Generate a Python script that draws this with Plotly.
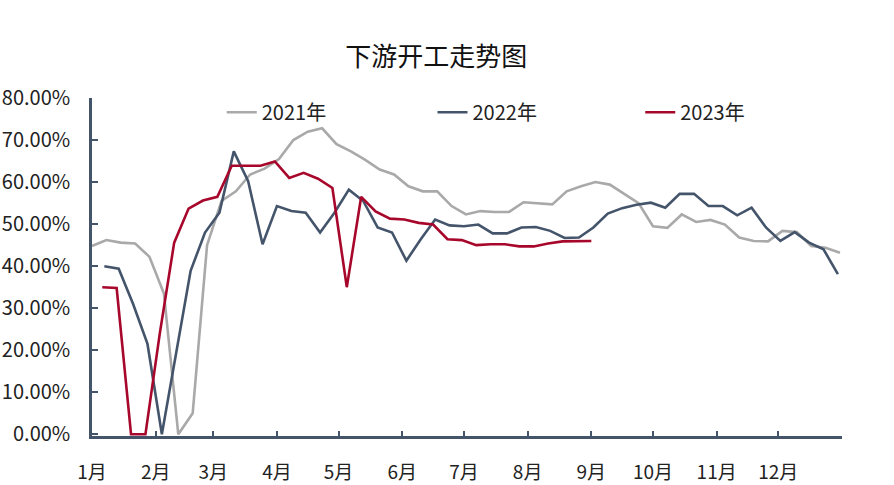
import pandas as pd
import plotly.graph_objects as go

# ---------------- data ----------------
month_labels = ["1月", "2月", "3月", "4月", "5月", "6月", "7月", "8月", "9月", "10月", "11月", "12月"]

series_names = ["2021年", "2022年", "2023年"]
series_start = ["2021-01-01", "2022-01-07", "2023-01-06"]   # weekly observations (Fridays)

v2021 = [44.8, 46.2, 45.6, 45.4, 42.2, 33.5, 0.0, 5.0, 45.0, 55.5,
         57.8, 61.8, 63.2, 65.5, 70.0, 72.0, 72.8, 69.0, 67.3, 65.3,
         63.0, 61.8, 59.0, 57.8, 57.8, 54.3, 52.3, 53.1, 52.9, 52.9,
         55.2, 55.0, 54.7, 57.8, 59.0, 60.0, 59.4, 57.2, 55.0, 49.5,
         49.1, 52.3, 50.5, 51.0, 49.9, 46.8, 46.0, 45.9, 48.4, 48.1,
         44.8, 44.4, 43.2]

v2022 = [40.0, 39.4, 31.0, 21.5, 0.0, 19.5, 38.9, 48.0, 52.7, 67.3,
         60.2, 45.2, 54.3, 53.1, 52.7, 48.0, 52.7, 58.2, 55.5, 49.2,
         48.0, 41.3, 46.4, 51.1, 49.7, 49.5, 49.9, 47.8, 47.8, 49.2,
         49.3, 48.4, 46.7, 46.8, 49.2, 52.5, 53.8, 54.6, 55.1, 53.9,
         57.2, 57.2, 54.3, 54.3, 52.1, 53.9, 49.2, 46.0, 48.1, 45.6,
         44.0, 38.1]

v2023 = [35.0, 34.8, 0.0, 0.0, 24.0, 45.6, 53.7, 55.6, 56.5, 63.9,
         63.9, 63.9, 64.9, 61.0, 62.2, 60.8, 58.6, 35.0, 56.5, 53.0,
         51.3, 51.1, 50.3, 49.9, 46.4, 46.2, 45.0, 45.2, 45.2, 44.7,
         44.7, 45.4, 45.9, 46.0, 46.0]

series_values = [v2021, v2022, v2023]
series_colors = ["#A9A9A9", "#44546A", "#A8072C"]

# ---------------- helpers ----------------
def day_of_year(start, n):
    dates = pd.date_range(start, periods=n, freq="7D")
    return [(d - pd.Timestamp(year=d.year, month=1, day=1)).days for d in dates]

base = pd.Timestamp("2021-01-01")
month_starts = pd.date_range("2021-01-01", periods=13, freq="MS")
tick_days = [(d - base).days for d in month_starts]
tick_text = month_labels + [""]

FONT = "Noto Sans CJK SC, Microsoft YaHei, sans-serif"
AXIS = "#44546A"

fig = go.Figure()
legend_ids = ["legend", "legend2", "legend3"]
for name, start, vals, col, lg in zip(series_names, series_start, series_values, series_colors, legend_ids):
    fig.add_trace(go.Scatter(
        x=day_of_year(start, len(vals)), y=vals, name=name, mode="lines",
        line=dict(color=col, width=2.6), legend=lg,
        hovertemplate="%{y:.2f}%<extra>" + name + "</extra>",
    ))

legend_common = dict(orientation="h", yanchor="middle", y=0.958, xanchor="left",
                     font=dict(family=FONT, size=20, color="#222222"),
                     bgcolor="rgba(0,0,0,0)", borderwidth=0)

fig.update_layout(
    width=894, height=485,
    margin=dict(l=92, r=52, t=98, b=49, autoexpand=False),
    paper_bgcolor="white", plot_bgcolor="white",
    font=dict(family=FONT, size=20, color="#222222"),
    title=dict(text="下游开工走势图", x=0.488, xref="container", xanchor="center",
               y=1 - 57 / 485, yref="container", yanchor="middle",
               font=dict(family=FONT, size=26, color="#111111")),
    legend=dict(x=0.173, **legend_common),
    legend2=dict(x=0.454, **legend_common),
    legend3=dict(x=0.731, **legend_common),
    showlegend=True,
)

fig.update_xaxes(
    range=[0, 365], tickmode="array", tickvals=tick_days, ticktext=tick_text,
    showline=True, linecolor=AXIS, linewidth=2.5,
    ticks="inside", ticklen=5, tickwidth=2, tickcolor=AXIS,
    showgrid=False, zeroline=False, automargin=False,
    tickfont=dict(family=FONT, size=19, color="#222222"),
    ticklabelstandoff=17,
)
fig.update_yaxes(
    range=[-0.4, 80], tickmode="linear", tick0=0, dtick=10,
    tickformat=".2f", ticksuffix="%",
    showline=True, linecolor=AXIS, linewidth=2.5,
    ticks="inside", ticklen=6, tickwidth=2, tickcolor=AXIS,
    showgrid=False, zeroline=False, automargin=False,
    tickfont=dict(family=FONT, size=20, color="#222222"),
    ticklabelstandoff=15,
)

fig.write_html("out.html", config={"displayModeBar": False},
               post_script="document.body.style.margin='0';")
